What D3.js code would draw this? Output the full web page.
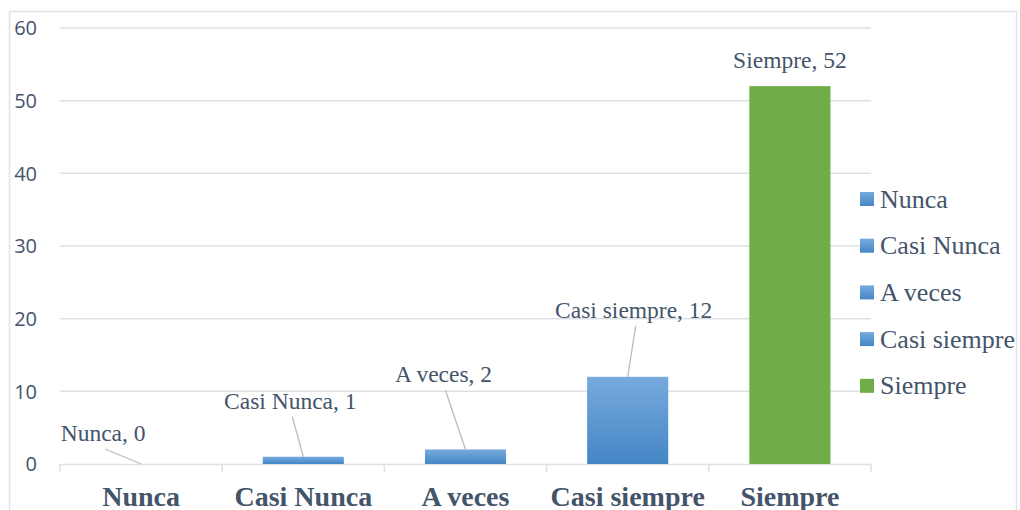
<!DOCTYPE html>
<html><head><meta charset="utf-8">
<script src="https://cdn.jsdelivr.net/npm/d3@7"></script>
<style>body{margin:0;background:#fff;}svg{display:block;}</style>
</head><body>
<svg id="c" width="1020" height="510"></svg>
<script>
const categories = ["Nunca","Casi Nunca","A veces","Casi siempre","Siempre"];
const values = [0,1,2,12,52];
const yTicks = [0,10,20,30,40,50,60];
const seriesColors = ["blue","blue","blue","blue","green"];

// layout (label offsets relative to bar top-center)
const labelOffsets = [[-38,-23],[-13,-48],[-22,-67],[6,-59],[0,-18]];
const showLeader = [true,true,true,true,false];

const svg = d3.select("#c");
const textColor = "#44546a";
const gridColor = "#dde1e7";

const defs = svg.append("defs");
const g = defs.append("linearGradient").attr("id","blueGrad").attr("x1",0).attr("y1",0).attr("x2",0).attr("y2",1);
g.append("stop").attr("offset","0%").attr("stop-color","#77aadd");
g.append("stop").attr("offset","100%").attr("stop-color","#4586c6");
const fillFor = c => c === "green" ? "#70ad47" : "url(#blueGrad)";

// outer chart border
svg.append("rect").attr("x",9.5).attr("y",11.5).attr("width",1007).attr("height",520)
  .attr("fill","none").attr("stroke","#dfe3e8").attr("stroke-width",1.5);

const x = d3.scaleBand().domain(categories).range([60,871]).paddingInner(0.5).paddingOuter(0.25);
const y = d3.scaleLinear().domain([0,60]).range([464,28]);

// gridlines
svg.append("g").selectAll("line").data(yTicks.filter(t=>t>0)).join("line")
  .attr("x1",60).attr("x2",871).attr("y1",d=>y(d)).attr("y2",d=>y(d))
  .attr("stroke",gridColor).attr("stroke-width",1.5);

// y tick labels
svg.append("g").selectAll("text").data(yTicks).join("text")
  .attr("x",37).attr("y",d=>y(d)).attr("dy","0.36em").attr("text-anchor","end")
  .attr("font-family","'Open Sans', sans-serif").attr("font-size",20).attr("fill",textColor)
  .text(d=>d);

// x axis
const xAxis = d3.axisBottom(x).tickSize(0).tickFormat("");
const ax = svg.append("g").attr("transform","translate(0,464)").call(xAxis);
ax.select(".domain").attr("stroke",gridColor).attr("stroke-width",1.5);
// boundary ticks
const step = x.step();
const bounds = d3.range(categories.length+1).map(i => x(categories[0]) - x.paddingOuter()*step - (x.paddingInner()*step)/2*0 + i*step);
svg.append("g").selectAll("line").data(d3.range(categories.length+1)).join("line")
  .attr("x1",i=>60+i*step).attr("x2",i=>60+i*step).attr("y1",464).attr("y2",472)
  .attr("stroke",gridColor).attr("stroke-width",1.5);

// x category labels
svg.append("g").selectAll("text").data(categories).join("text")
  .attr("x",d=>x(d)+x.bandwidth()/2).attr("y",506).attr("text-anchor","middle")
  .attr("font-family","'Liberation Serif', 'Times New Roman', serif").attr("font-weight","bold")
  .attr("font-size",28).attr("fill",textColor).text(d=>d);

// bars
const data = categories.map((c,i)=>({c, v:values[i], col:seriesColors[i], off:labelOffsets[i], lead:showLeader[i]}));
svg.append("g").selectAll("rect").data(data).join("rect")
  .attr("x",d=>x(d.c)).attr("width",x.bandwidth())
  .attr("y",d=>y(d.v)).attr("height",d=>y(0)-y(d.v))
  .attr("fill",d=>fillFor(d.col));

// leader lines
svg.append("g").selectAll("line").data(data.filter(d=>d.lead)).join("line")
  .attr("x1",d=>x(d.c)+x.bandwidth()/2+d.off[0]+2).attr("y1",d=>y(d.v)+d.off[1]+8)
  .attr("x2",d=>x(d.c)+x.bandwidth()/2).attr("y2",d=>y(d.v))
  .attr("stroke","#b4bdc8").attr("stroke-width",1.3);

// data labels
svg.append("g").selectAll("text").data(data).join("text")
  .attr("x",d=>x(d.c)+x.bandwidth()/2+d.off[0]).attr("y",d=>y(d.v)+d.off[1])
  .attr("text-anchor","middle")
  .attr("font-family","'Liberation Serif', 'Times New Roman', serif")
  .attr("font-size",23.5).attr("fill",textColor)
  .text(d=>`${d.c}, ${d.v}`);

// legend
const leg = svg.append("g").selectAll("g").data(data).join("g")
  .attr("transform",(d,i)=>`translate(860,${199+i*46.7})`);
leg.append("rect").attr("x",0).attr("y",-7).attr("width",14).attr("height",14).attr("fill",d=>fillFor(d.col));
leg.append("text").attr("x",20).attr("y",0).attr("dy","0.33em")
  .attr("font-family","'Liberation Serif', 'Times New Roman', serif")
  .attr("font-size",26).attr("fill",textColor).text(d=>d.c);
</script>
</body></html>
